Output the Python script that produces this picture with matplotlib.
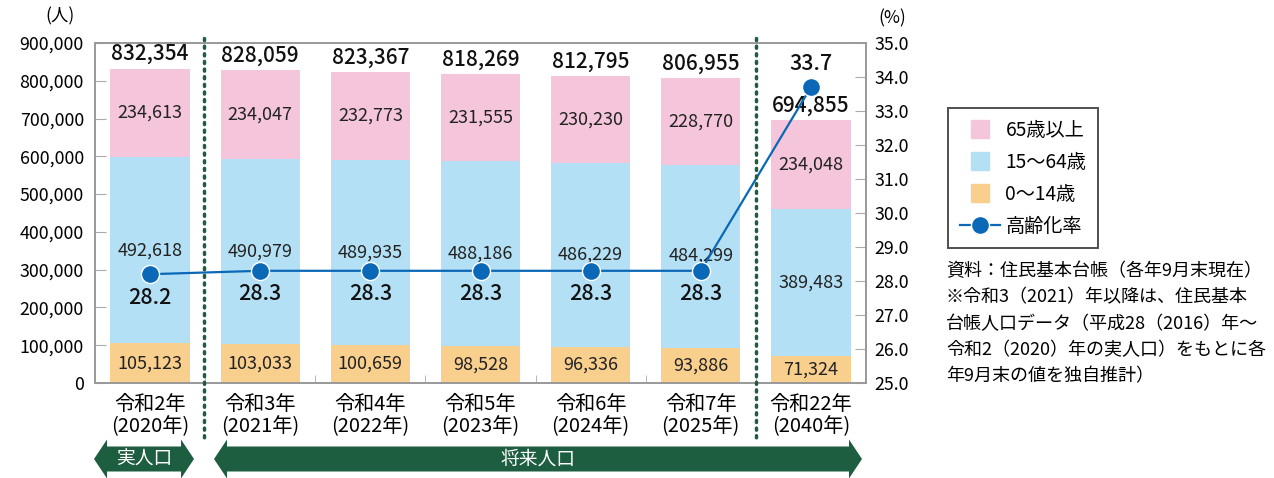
import numpy as np
import matplotlib
matplotlib.use("Agg")
import matplotlib.pyplot as plt
from matplotlib.patches import Polygon
from matplotlib.lines import Line2D

plt.rcParams['font.family'] = ['Noto Sans CJK JP', 'DejaVu Sans']

years = ['令和2年\n(2020年)', '令和3年\n(2021年)', '令和4年\n(2022年)', '令和5年\n(2023年)',
         '令和6年\n(2024年)', '令和7年\n(2025年)', '令和22年\n(2040年)']
age_0_14 = [105123, 103033, 100659, 98528, 96336, 93886, 71324]
age_15_64 = [492618, 490979, 489935, 488186, 486229, 484299, 389483]
age_65 = [234613, 234047, 232773, 231555, 230230, 228770, 234048]
totals = [832354, 828059, 823367, 818269, 812795, 806955, 694855]
rate = [28.2, 28.3, 28.3, 28.3, 28.3, 28.3, 33.7]

c_old = '#f5c6db'
c_mid = '#b3e0f5'
c_young = '#f9cf8e'
c_line = '#0a68b6'
c_green = '#1e5e40'

W, H = 1274, 478
fig = plt.figure(figsize=(W / 100, H / 100), dpi=100)
ax = fig.add_axes([95 / W, 1 - 383 / H, 771 / W, 340 / H])
x = np.arange(len(years))
w = 0.72

b0 = np.array(age_0_14)
b1 = b0 + np.array(age_15_64)
ax.bar(x, age_0_14, w, color=c_young, zorder=2)
ax.bar(x, age_15_64, w, bottom=b0, color=c_mid, zorder=2)
ax.bar(x, age_65, w, bottom=b1, color=c_old, zorder=2)

for i in range(len(x)):
    ax.text(x[i], age_0_14[i] / 2, f'{age_0_14[i]:,}', ha='center', va='center', fontsize=13, color='#222222')
    ax.text(x[i], b0[i] + age_15_64[i] / 2, f'{age_15_64[i]:,}', ha='center', va='center', fontsize=13, color='#222222')
    ax.text(x[i], b1[i] + age_65[i] / 2, f'{age_65[i]:,}', ha='center', va='center', fontsize=13, color='#222222')
    ax.text(x[i], totals[i] + 9000, f'{totals[i]:,}', ha='center', va='bottom', fontsize=15,
            fontweight='medium', color='#111111')

ax.set_xlim(-0.5, len(x) - 0.5)
ax.set_ylim(0, 900000)
ax.set_yticks(np.arange(0, 900001, 100000))
ax.set_yticklabels([f'{v:,}' for v in range(0, 900001, 100000)], fontsize=12.8)
ax.set_xticks(x)
ax.set_xticklabels(years, fontsize=14.5, linespacing=1.05)
ax.set_xticks(x[:-1] + 0.5, minor=True)
ax.tick_params(axis='x', which='major', length=0, pad=8)
ax.tick_params(axis='x', which='minor', direction='in', length=6, color='#aaaaaa')
ax.tick_params(axis='y', direction='in', length=8, color='#aaaaaa', pad=8)
for s in ax.spines.values():
    s.set_color('#999999')
    s.set_linewidth(1.2)

ax2 = ax.twinx()
ax2.set_ylim(25, 35)
ax2.set_yticks(np.arange(25, 35.1, 1))
ax2.set_yticklabels([f'{v:.1f}' for v in np.arange(25, 35.1, 1)], fontsize=12.8)
ax2.tick_params(axis='y', direction='in', length=8, color='#aaaaaa', pad=6)
for s in ax2.spines.values():
    s.set_color('#999999')
    s.set_linewidth(1.2)
ax2.plot(x, rate, color=c_line, lw=1.6, marker='o', ms=13, mec='white', mew=1, zorder=5)
for i in range(len(x)):
    dy = 17 if i == len(x) - 1 else -17
    ax2.annotate(f'{rate[i]}', (x[i], rate[i]), xytext=(0, dy), textcoords='offset points',
                 ha='center', va='center', fontsize=15.5, fontweight='medium', color='#111111')

fig.text(60 / W, 1 - 16 / H, '(人)', ha='center', va='center', fontsize=12.5)
fig.text(892 / W, 1 - 18 / H, '(%)', ha='center', va='center', fontsize=12.5)

# dotted separators
for xp in [204, 756]:
    fig.add_artist(Line2D([xp / W, xp / W], [1 - 38 / H, 1 - 440 / H], color=c_green,
                          lw=2.5, ls=(0, (0.6, 1.6)), dash_capstyle='round'))

# bottom arrows
def arrow(x0, x1, label):
    yc = 459
    sh, hh, hl = 12.5, 19.5, 13
    pts = [(x0, yc), (x0 + hl, yc - hh), (x0 + hl, yc - sh), (x1 - hl, yc - sh), (x1 - hl, yc - hh),
           (x1, yc), (x1 - hl, yc + hh), (x1 - hl, yc + sh), (x0 + hl, yc + sh), (x0 + hl, yc + hh)]
    pts = [(px / W, 1 - py / H) for px, py in pts]
    fig.add_artist(Polygon(pts, closed=True, color=c_green, transform=fig.transFigure, lw=0))
    fig.text((x0 + x1) / 2 / W, 1 - yc / H, label, color='white', ha='center', va='center', fontsize=13.5)

arrow(94, 194, '実人口')
arrow(214, 862, '将来人口')

handles = [Line2D([], [], ls='none', marker='s', ms=13, color=c_old),
           Line2D([], [], ls='none', marker='s', ms=13, color=c_mid),
           Line2D([], [], ls='none', marker='s', ms=13, color=c_young),
           Line2D([], [], color=c_line, marker='o', ms=13, mec='white', mew=1, lw=1.6)]
labels = ['65歳以上', '15～64歳', '0～14歳', '高齢化率']
leg = fig.legend(handles, labels, loc='upper left', bbox_to_anchor=(948 / W, 1 - 108 / H),
                 borderaxespad=0, fontsize=13.8, frameon=True, fancybox=False, edgecolor='#222222',
                 handlelength=2.1, handletextpad=0.3, borderpad=0.6, labelspacing=0.58)
leg.get_frame().set_linewidth(1.4)

note = ('資料：住民基本台帳（各年9月末現在）\n'
        '※令和3（2021）年以降は、住民基本\n'
        '台帳人口データ（平成28（2016）年～\n'
        '令和2（2020）年の実人口）をもとに各\n'
        '年9月末の値を独自推計）')
fig.text(946 / W, 1 - 262 / H, note, ha='left', va='top', fontsize=13, linespacing=1.6)

fig.savefig('out.png', dpi=100)
